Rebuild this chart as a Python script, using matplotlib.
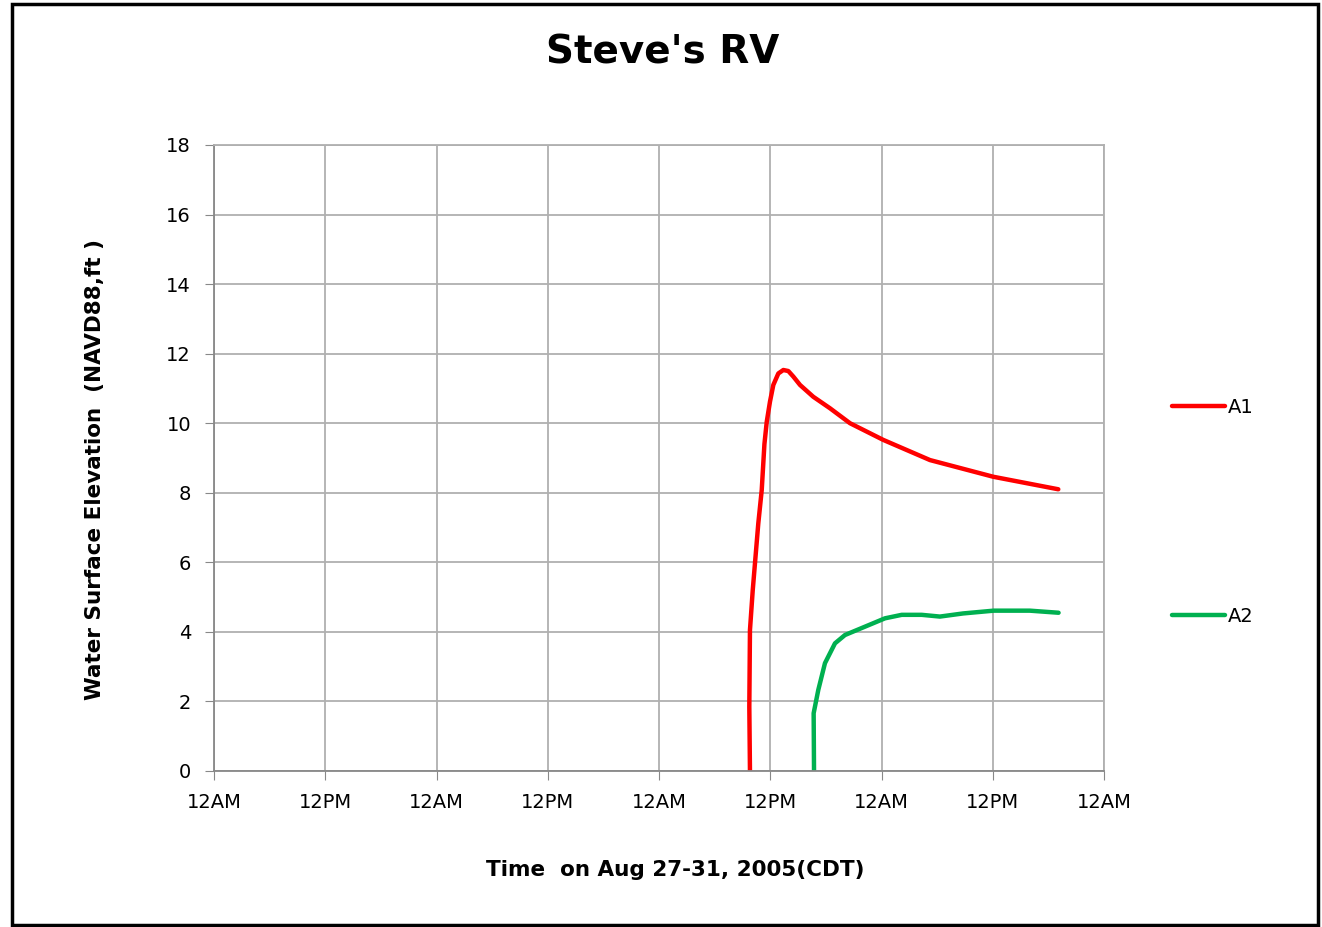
import matplotlib
matplotlib.use("Agg")
import matplotlib.pyplot as plt
from matplotlib.patches import Rectangle

# hours since 12AM Aug 27, 2005 (CDT)
a1_hours = [57.81, 57.74, 57.81, 58.11, 58.35, 58.71, 59.08, 59.37, 59.62, 59.97,
            60.33, 60.87, 61.41, 61.95, 62.49, 63.21, 64.64, 66.44, 68.60, 72.19,
            77.23, 84.06, 91.07]
a1_elev = [0.0, 1.85, 4.05, 5.2, 5.97, 7.12, 8.08, 9.4, 10.04, 10.62,
           11.1, 11.43, 11.53, 11.5, 11.34, 11.1, 10.76, 10.43, 10.0, 9.52,
           8.94, 8.46, 8.10]

a2_hours = [64.72, 64.68, 65.18, 65.90, 66.98, 68.06, 70.22, 72.38, 74.18, 76.34,
            78.3, 80.8, 84.1, 88.0, 91.1]
a2_elev = [0.0, 1.66, 2.33, 3.1, 3.67, 3.91, 4.15, 4.39, 4.49, 4.49,
           4.44, 4.53, 4.61, 4.61, 4.55]

tick_hours = [0, 12, 24, 36, 48, 60, 72, 84, 96]
tick_labels = ["12AM", "12PM", "12AM", "12PM", "12AM", "12PM", "12AM", "12PM", "12AM"]
y_ticks = list(range(0, 19, 2))

fig = plt.figure(figsize=(13.22, 9.27), dpi=100)
ax = fig.add_axes([0.1619, 0.1683, 0.6732, 0.6753])

line_kw = dict(lw=3.2, solid_capstyle="round", solid_joinstyle="round")
ax.plot(a1_hours, a1_elev, color="#ff0000", label="A1", **line_kw)
ax.plot(a2_hours, a2_elev, color="#00b050", label="A2", **line_kw)

ax.set_xlim(0, 96)
ax.set_ylim(0, 18)
ax.set_xticks(tick_hours)
ax.set_xticklabels(tick_labels)
ax.set_yticks(y_ticks)
ax.tick_params(axis="both", labelsize=14, color="#888888", length=6.5, direction="out")
ax.tick_params(axis="x", pad=9)
ax.tick_params(axis="y", pad=10)
ax.grid(True, color="#b0b0b0", lw=1.3)
ax.set_axisbelow(True)
for s in ax.spines.values():
    s.set_color("#b0b0b0")
    s.set_linewidth(1.3)
ax.spines["bottom"].set_color("#888888")
ax.spines["left"].set_color("#888888")

fig.text(0.5015, 0.943, "Steve's RV", ha="center", va="center", fontsize=28, fontweight="bold")
fig.text(0.511, 0.062, "Time  on Aug 27-31, 2005(CDT)", ha="center", va="center",
         fontsize=15.5, fontweight="bold")
fig.text(0.072, 0.493, "Water Surface Elevation  (NAVD88,ft )", ha="center", va="center",
         rotation=90, fontsize=15.5, fontweight="bold")

fig.legend(loc="upper left", bbox_to_anchor=(0.8795, 0.5815), frameon=False,
           fontsize=14, labelspacing=9.8, handlelength=2.7, handletextpad=0.15,
           borderpad=0)

fig.patches.append(Rectangle((0.009, 0.002), 0.988, 0.994, transform=fig.transFigure,
                             fill=False, edgecolor="black", lw=2.5))

fig.savefig("out.png", dpi=100)
